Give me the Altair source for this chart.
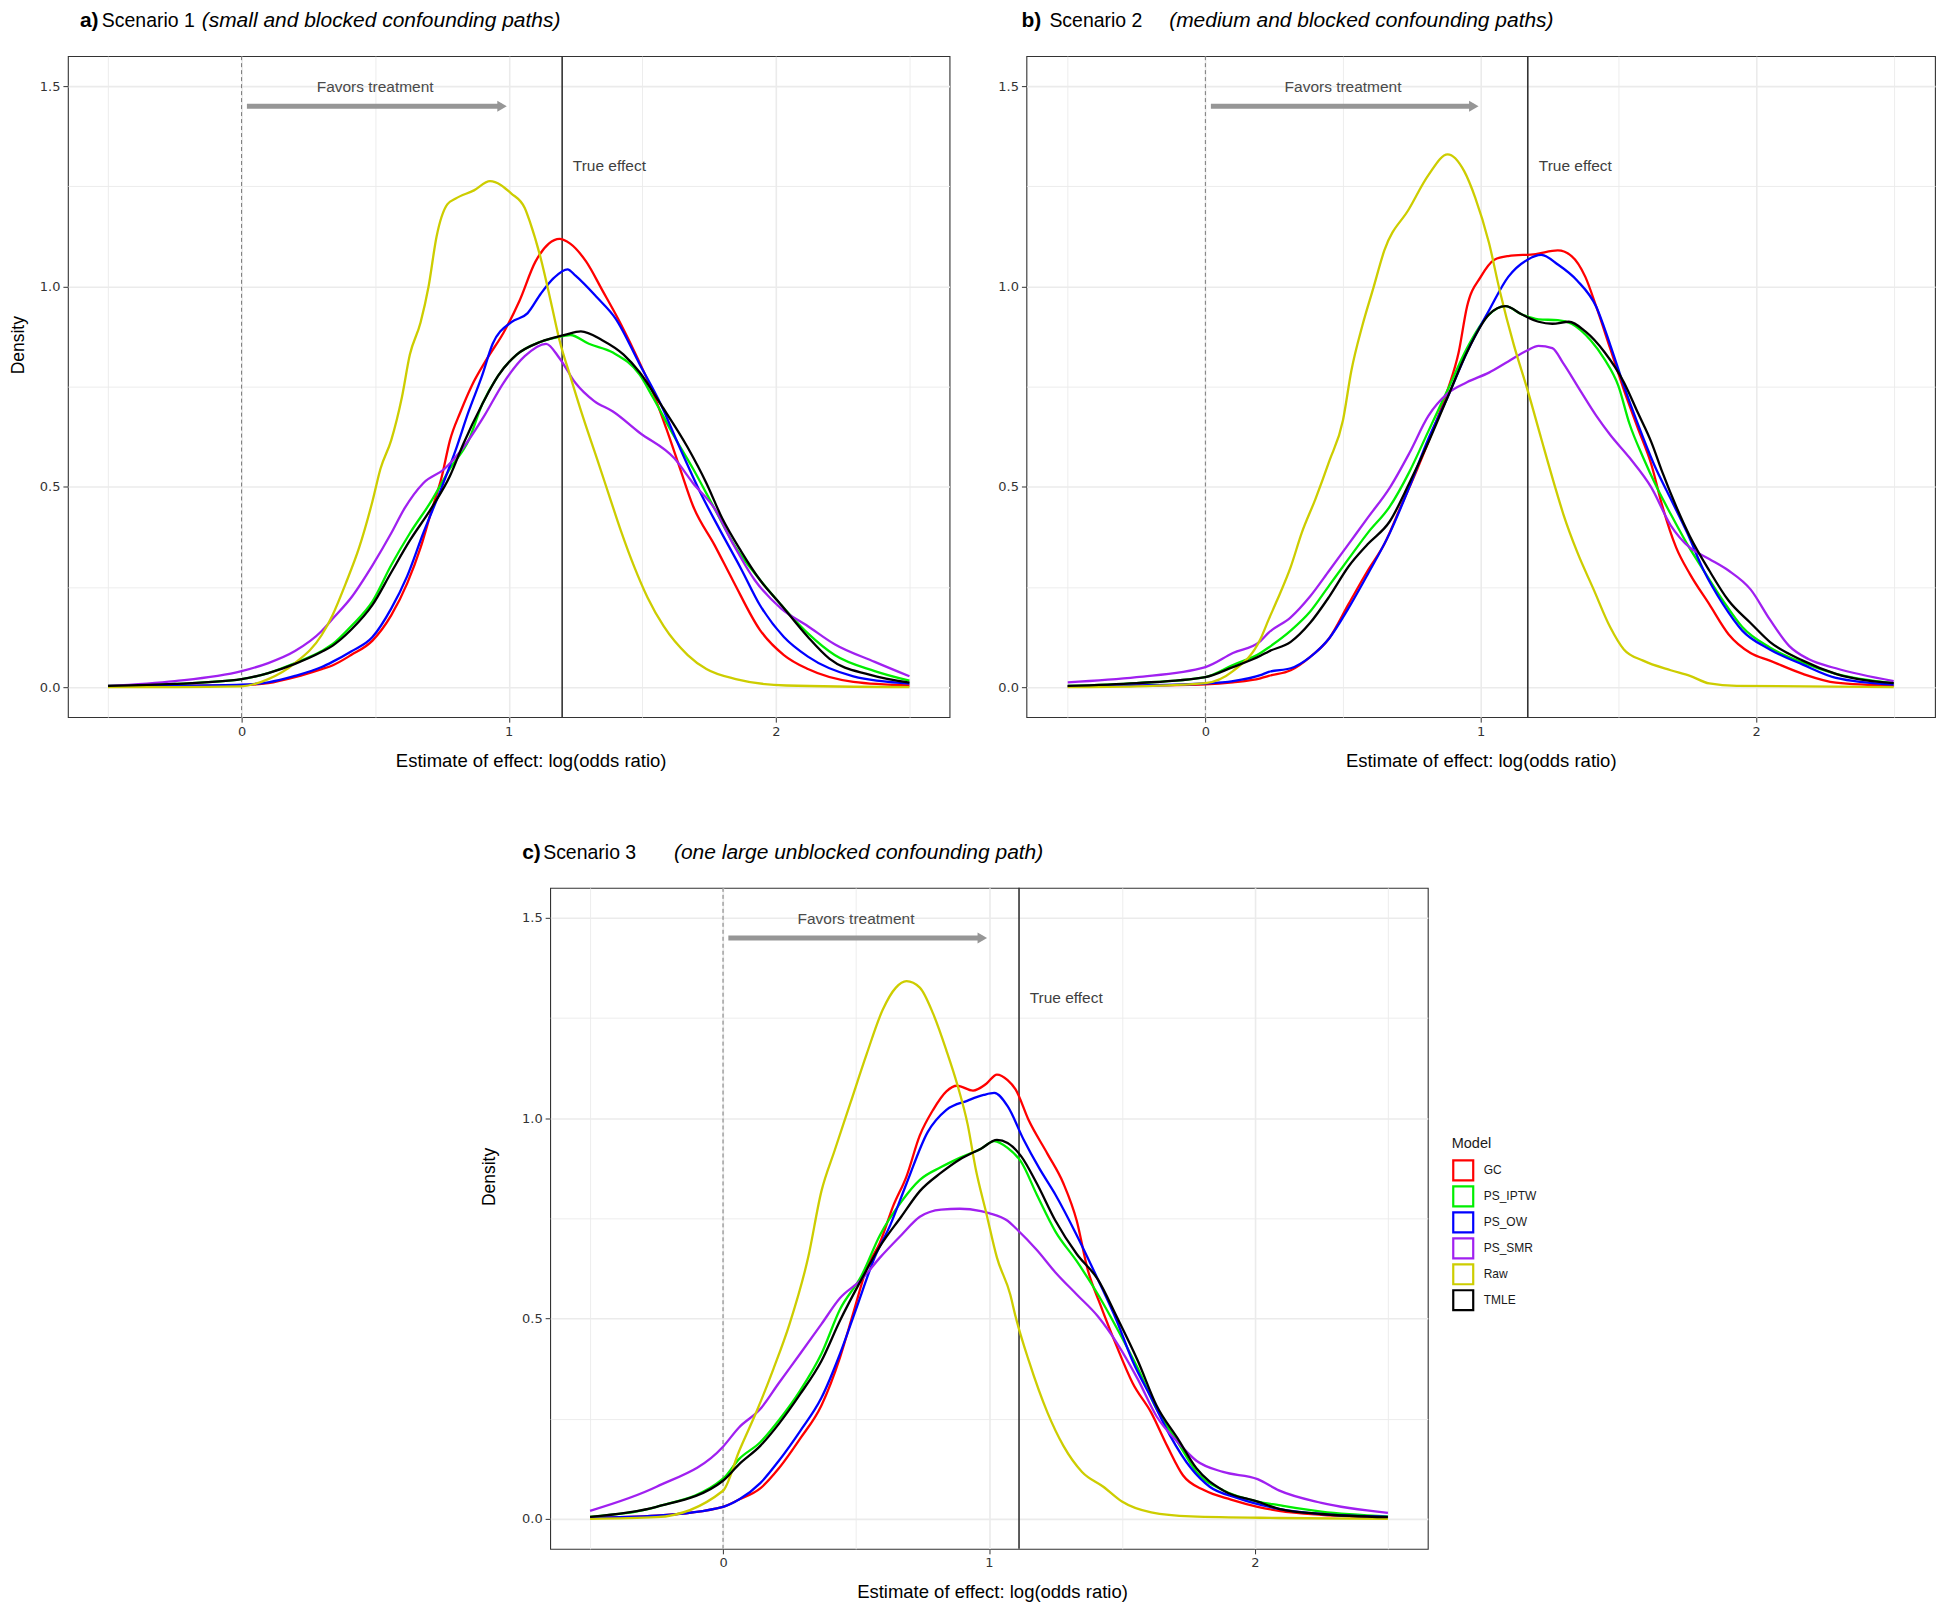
import altair as alt
import pandas as pd

MODELS = ["GC", "PS_IPTW", "PS_OW", "PS_SMR", "Raw", "TMLE"]
COLORS = ["#FF0000", "#00EE00", "#0000FF", "#A020F0", "#CDCD00", "#000000"]

# ---------------- Panel a (Scenario 1) ----------------
A_GC_X = [-0.5, -0.25, 0.0, 0.1, 0.2, 0.3, 0.34, 0.41, 0.49, 0.56, 0.62, 0.67, 0.71, 0.75, 0.78, 0.82, 0.86, 0.92, 0.98, 1.04, 1.1, 1.15, 1.19, 1.23, 1.29, 1.35, 1.42, 1.49, 1.54, 1.59, 1.64, 1.69, 1.77, 1.84, 1.94, 2.03, 2.12, 2.29, 2.5]
A_GC_Y = [0.002, 0.003, 0.005, 0.01, 0.025, 0.045, 0.054, 0.08, 0.116, 0.179, 0.259, 0.348, 0.438, 0.527, 0.616, 0.688, 0.75, 0.821, 0.884, 0.964, 1.062, 1.107, 1.119, 1.107, 1.062, 0.991, 0.906, 0.81, 0.735, 0.645, 0.548, 0.452, 0.355, 0.265, 0.143, 0.08, 0.045, 0.013, 0.004]
A_OW_X = [-0.5, -0.25, 0.0, 0.1, 0.2, 0.3, 0.34, 0.41, 0.49, 0.56, 0.62, 0.68, 0.75, 0.8, 0.85, 0.9, 0.94, 1.01, 1.07, 1.12, 1.17, 1.22, 1.25, 1.33, 1.4, 1.49, 1.57, 1.64, 1.72, 1.79, 1.87, 1.94, 2.03, 2.12, 2.29, 2.5]
A_OW_Y = [0.002, 0.003, 0.006, 0.012, 0.028, 0.05, 0.063, 0.089, 0.125, 0.196, 0.277, 0.384, 0.5, 0.589, 0.688, 0.777, 0.857, 0.911, 0.933, 0.982, 1.022, 1.043, 1.027, 0.973, 0.92, 0.806, 0.705, 0.598, 0.482, 0.393, 0.295, 0.205, 0.125, 0.076, 0.027, 0.009]
A_IPTW_X = [-0.5, -0.25, 0.0, 0.1, 0.2, 0.3, 0.34, 0.41, 0.49, 0.56, 0.63, 0.71, 0.78, 0.85, 0.9, 0.96, 1.03, 1.1, 1.18, 1.23, 1.3, 1.39, 1.49, 1.54, 1.62, 1.69, 1.77, 1.85, 1.94, 2.02, 2.12, 2.22, 2.37, 2.5]
A_IPTW_Y = [0.003, 0.008, 0.02, 0.035, 0.06, 0.09, 0.107, 0.152, 0.214, 0.304, 0.384, 0.464, 0.545, 0.616, 0.705, 0.777, 0.83, 0.857, 0.873, 0.879, 0.857, 0.835, 0.78, 0.723, 0.625, 0.545, 0.446, 0.348, 0.268, 0.205, 0.134, 0.08, 0.04, 0.016]
A_TMLE_X = [-0.5, -0.25, 0.0, 0.1, 0.2, 0.3, 0.34, 0.41, 0.49, 0.56, 0.63, 0.71, 0.78, 0.83, 0.9, 0.96, 1.03, 1.12, 1.21, 1.27, 1.35, 1.43, 1.49, 1.57, 1.67, 1.74, 1.8, 1.87, 1.94, 2.02, 2.12, 2.2, 2.35, 2.5]
A_TMLE_Y = [0.003, 0.008, 0.02, 0.035, 0.058, 0.088, 0.103, 0.143, 0.205, 0.286, 0.366, 0.446, 0.527, 0.607, 0.705, 0.777, 0.83, 0.862, 0.879, 0.888, 0.866, 0.83, 0.786, 0.705, 0.598, 0.509, 0.42, 0.339, 0.268, 0.205, 0.125, 0.071, 0.031, 0.011]
A_SMR_X = [-0.5, -0.25, 0.0, 0.1, 0.2, 0.3, 0.34, 0.41, 0.49, 0.56, 0.61, 0.68, 0.76, 0.83, 0.91, 0.98, 1.06, 1.14, 1.19, 1.25, 1.32, 1.39, 1.49, 1.62, 1.69, 1.77, 1.84, 1.92, 2.02, 2.12, 2.22, 2.37, 2.5]
A_SMR_Y = [0.003, 0.015, 0.04, 0.06, 0.09, 0.14, 0.17, 0.223, 0.304, 0.384, 0.446, 0.509, 0.545, 0.598, 0.679, 0.759, 0.826, 0.857, 0.821, 0.759, 0.714, 0.688, 0.635, 0.571, 0.509, 0.446, 0.357, 0.268, 0.196, 0.152, 0.107, 0.063, 0.027]
A_RAW_X = [-0.5, -0.25, 0.0, 0.1, 0.2, 0.3, 0.34, 0.39, 0.44, 0.49, 0.52, 0.56, 0.6, 0.63, 0.67, 0.7, 0.73, 0.77, 0.8, 0.87, 0.93, 1.01, 1.06, 1.08, 1.12, 1.16, 1.19, 1.23, 1.28, 1.33, 1.38, 1.42, 1.47, 1.52, 1.58, 1.67, 1.74, 1.85, 2.04, 2.5]
A_RAW_Y = [0.0, 0.0, 0.002, 0.02, 0.06, 0.13, 0.179, 0.259, 0.348, 0.464, 0.545, 0.616, 0.723, 0.83, 0.91, 1.0, 1.125, 1.205, 1.219, 1.24, 1.263, 1.232, 1.196, 1.16, 1.07, 0.955, 0.866, 0.777, 0.67, 0.571, 0.47, 0.39, 0.3, 0.223, 0.152, 0.08, 0.045, 0.02, 0.004, 0.0]

# ---------------- Panel b (Scenario 2) ----------------
B_GC_X = [-0.5, -0.25, 0.0, 0.1, 0.2, 0.23, 0.31, 0.38, 0.45, 0.52, 0.59, 0.65, 0.71, 0.77, 0.83, 0.88, 0.92, 0.95, 1.0, 1.05, 1.1, 1.2, 1.28, 1.33, 1.38, 1.42, 1.47, 1.52, 1.57, 1.62, 1.66, 1.71, 1.76, 1.83, 1.9, 1.98, 2.05, 2.17, 2.29, 2.5]
B_GC_Y = [0.002, 0.004, 0.007, 0.012, 0.022, 0.028, 0.042, 0.075, 0.122, 0.207, 0.291, 0.357, 0.451, 0.545, 0.648, 0.742, 0.836, 0.949, 1.024, 1.067, 1.076, 1.081, 1.09, 1.076, 1.024, 0.949, 0.846, 0.742, 0.648, 0.555, 0.451, 0.348, 0.282, 0.207, 0.132, 0.085, 0.066, 0.033, 0.011, 0.003]
B_OW_X = [-0.5, -0.25, 0.0, 0.1, 0.2, 0.23, 0.31, 0.38, 0.45, 0.52, 0.59, 0.67, 0.74, 0.81, 0.88, 0.95, 1.03, 1.1, 1.17, 1.22, 1.28, 1.35, 1.42, 1.47, 1.52, 1.57, 1.63, 1.69, 1.75, 1.81, 1.88, 1.95, 2.05, 2.17, 2.29, 2.5]
B_OW_Y = [0.002, 0.004, 0.009, 0.015, 0.03, 0.038, 0.047, 0.075, 0.122, 0.197, 0.282, 0.385, 0.498, 0.62, 0.724, 0.836, 0.94, 1.024, 1.067, 1.079, 1.055, 1.015, 0.949, 0.855, 0.752, 0.658, 0.555, 0.47, 0.385, 0.291, 0.207, 0.141, 0.094, 0.056, 0.023, 0.006]
B_IPTW_X = [-0.5, -0.25, 0.0, 0.1, 0.2, 0.23, 0.31, 0.38, 0.45, 0.52, 0.59, 0.67, 0.74, 0.81, 0.88, 0.95, 1.03, 1.09, 1.15, 1.21, 1.28, 1.33, 1.4, 1.45, 1.5, 1.54, 1.59, 1.64, 1.69, 1.75, 1.81, 1.88, 1.95, 2.05, 2.17, 2.29, 2.5]
B_IPTW_Y = [0.003, 0.01, 0.025, 0.055, 0.085, 0.099, 0.141, 0.188, 0.254, 0.32, 0.385, 0.451, 0.536, 0.639, 0.742, 0.846, 0.93, 0.951, 0.93, 0.918, 0.916, 0.907, 0.865, 0.818, 0.752, 0.658, 0.573, 0.498, 0.432, 0.357, 0.291, 0.216, 0.15, 0.099, 0.061, 0.033, 0.01]
B_TMLE_X = [-0.5, -0.25, 0.0, 0.1, 0.2, 0.23, 0.31, 0.38, 0.45, 0.52, 0.59, 0.67, 0.74, 0.81, 0.88, 0.95, 1.03, 1.09, 1.15, 1.21, 1.26, 1.32, 1.38, 1.45, 1.52, 1.57, 1.62, 1.66, 1.71, 1.76, 1.83, 1.9, 1.98, 2.05, 2.17, 2.29, 2.5]
B_TMLE_Y = [0.003, 0.01, 0.025, 0.05, 0.078, 0.089, 0.113, 0.16, 0.226, 0.301, 0.357, 0.414, 0.508, 0.611, 0.724, 0.836, 0.93, 0.951, 0.93, 0.912, 0.907, 0.912, 0.888, 0.836, 0.761, 0.686, 0.611, 0.536, 0.451, 0.376, 0.291, 0.216, 0.16, 0.113, 0.066, 0.033, 0.01]
B_SMR_X = [-0.5, -0.25, 0.0, 0.1, 0.2, 0.23, 0.31, 0.38, 0.45, 0.52, 0.59, 0.67, 0.74, 0.81, 0.88, 0.95, 1.03, 1.1, 1.17, 1.21, 1.26, 1.3, 1.36, 1.42, 1.47, 1.54, 1.62, 1.69, 1.76, 1.83, 1.9, 1.98, 2.05, 2.12, 2.19, 2.29, 2.5]
B_SMR_Y = [0.012, 0.025, 0.05, 0.085, 0.115, 0.136, 0.174, 0.226, 0.291, 0.357, 0.423, 0.498, 0.583, 0.677, 0.733, 0.761, 0.785, 0.813, 0.841, 0.852, 0.846, 0.808, 0.742, 0.677, 0.63, 0.573, 0.498, 0.404, 0.348, 0.32, 0.291, 0.244, 0.169, 0.103, 0.07, 0.047, 0.015]
B_RAW_X = [-0.5, -0.25, 0.0, 0.1, 0.2, 0.23, 0.26, 0.31, 0.35, 0.4, 0.45, 0.5, 0.53, 0.57, 0.61, 0.65, 0.74, 0.81, 0.88, 0.94, 0.98, 1.03, 1.07, 1.12, 1.17, 1.22, 1.27, 1.3, 1.35, 1.41, 1.47, 1.52, 1.59, 1.69, 1.76, 1.83, 1.93, 2.5]
B_RAW_Y = [0.0, 0.002, 0.01, 0.04, 0.12, 0.169, 0.216, 0.3, 0.385, 0.47, 0.564, 0.667, 0.789, 0.902, 0.996, 1.09, 1.194, 1.278, 1.33, 1.288, 1.222, 1.109, 0.987, 0.855, 0.742, 0.62, 0.5, 0.432, 0.338, 0.244, 0.15, 0.094, 0.066, 0.042, 0.028, 0.009, 0.003, 0.0]

# ---------------- Panel c (Scenario 3) ----------------
C_GC_X = [-0.5, -0.25, 0.0, 0.06, 0.14, 0.21, 0.29, 0.37, 0.44, 0.49, 0.54, 0.59, 0.64, 0.69, 0.74, 0.79, 0.84, 0.88, 0.94, 0.99, 1.03, 1.07, 1.1, 1.15, 1.22, 1.28, 1.33, 1.37, 1.42, 1.48, 1.54, 1.61, 1.67, 1.73, 1.81, 1.91, 2.01, 2.09, 2.25, 2.5]
C_GC_Y = [0.003, 0.008, 0.03, 0.048, 0.076, 0.126, 0.2, 0.283, 0.403, 0.514, 0.625, 0.689, 0.781, 0.855, 0.957, 1.021, 1.067, 1.081, 1.069, 1.086, 1.109, 1.095, 1.072, 0.994, 0.911, 0.837, 0.744, 0.625, 0.532, 0.431, 0.339, 0.265, 0.182, 0.108, 0.071, 0.048, 0.03, 0.02, 0.01, 0.004]
C_OW_X = [-0.5, -0.25, 0.0, 0.06, 0.14, 0.21, 0.29, 0.37, 0.44, 0.5, 0.57, 0.63, 0.69, 0.77, 0.84, 0.92, 0.98, 1.02, 1.07, 1.13, 1.19, 1.25, 1.33, 1.41, 1.48, 1.54, 1.61, 1.68, 1.76, 1.83, 1.93, 2.09, 2.25, 2.5]
C_OW_Y = [0.003, 0.008, 0.03, 0.048, 0.089, 0.145, 0.219, 0.302, 0.412, 0.523, 0.652, 0.735, 0.837, 0.966, 1.021, 1.044, 1.058, 1.063, 1.03, 0.947, 0.874, 0.809, 0.708, 0.597, 0.495, 0.394, 0.302, 0.209, 0.126, 0.08, 0.053, 0.025, 0.012, 0.005]
C_IPTW_X = [-0.5, -0.25, 0.0, 0.06, 0.14, 0.21, 0.29, 0.37, 0.44, 0.52, 0.59, 0.67, 0.74, 0.82, 0.89, 0.97, 1.02, 1.07, 1.12, 1.18, 1.25, 1.33, 1.41, 1.48, 1.56, 1.63, 1.71, 1.78, 1.88, 2.01, 2.09, 2.25, 2.5]
C_IPTW_Y = [0.005, 0.03, 0.1, 0.149, 0.191, 0.246, 0.32, 0.412, 0.523, 0.606, 0.708, 0.791, 0.846, 0.878, 0.901, 0.924, 0.943, 0.926, 0.892, 0.809, 0.717, 0.643, 0.56, 0.477, 0.375, 0.274, 0.191, 0.117, 0.071, 0.043, 0.034, 0.018, 0.006]
C_TMLE_X = [-0.5, -0.25, 0.0, 0.06, 0.14, 0.21, 0.29, 0.37, 0.44, 0.52, 0.59, 0.67, 0.74, 0.82, 0.89, 0.97, 1.03, 1.07, 1.12, 1.18, 1.25, 1.33, 1.41, 1.48, 1.56, 1.63, 1.71, 1.78, 1.88, 2.01, 2.09, 2.25, 2.5]
C_TMLE_Y = [0.005, 0.03, 0.095, 0.136, 0.182, 0.237, 0.311, 0.394, 0.495, 0.597, 0.68, 0.754, 0.818, 0.864, 0.897, 0.924, 0.946, 0.938, 0.906, 0.837, 0.744, 0.661, 0.597, 0.505, 0.394, 0.283, 0.2, 0.126, 0.071, 0.043, 0.025, 0.012, 0.004]
C_SMR_X = [-0.5, -0.25, 0.0, 0.06, 0.14, 0.21, 0.29, 0.37, 0.44, 0.52, 0.59, 0.67, 0.74, 0.82, 0.89, 0.97, 1.0, 1.07, 1.1, 1.18, 1.25, 1.33, 1.41, 1.48, 1.56, 1.63, 1.71, 1.78, 1.88, 2.01, 2.09, 2.25, 2.5]
C_SMR_Y = [0.02, 0.08, 0.18, 0.228, 0.274, 0.339, 0.412, 0.486, 0.551, 0.597, 0.652, 0.708, 0.754, 0.772, 0.774, 0.768, 0.763, 0.744, 0.726, 0.671, 0.615, 0.56, 0.505, 0.44, 0.348, 0.256, 0.191, 0.145, 0.117, 0.099, 0.071, 0.04, 0.015]
C_RAW_X = [-0.5, -0.25, 0.0, 0.06, 0.13, 0.19, 0.25, 0.32, 0.37, 0.42, 0.48, 0.54, 0.6, 0.65, 0.69, 0.74, 0.79, 0.84, 0.88, 0.92, 0.95, 0.99, 1.03, 1.08, 1.1, 1.15, 1.22, 1.28, 1.35, 1.43, 1.5, 1.61, 1.76, 2.09, 2.5]
C_RAW_Y = [0.0, 0.004, 0.07, 0.168, 0.274, 0.375, 0.486, 0.652, 0.818, 0.92, 1.04, 1.16, 1.27, 1.326, 1.342, 1.326, 1.261, 1.169, 1.086, 0.984, 0.874, 0.763, 0.652, 0.56, 0.505, 0.394, 0.265, 0.182, 0.117, 0.08, 0.043, 0.016, 0.006, 0.002, 0.0]

# annotation values (data units)
TRUE_EFFECT = [1.2, 1.171, 1.113]
TRUE_LABEL_DX = 0.04
TRUE_LABEL_Y = 1.3
FAVORS_X = 0.5
FAVORS_Y = 1.5
ARROW_X0 = 0.02
ARROW_X1 = 0.975
ARROW_Y = 1.45

X_TICKS = [-0.5, 0, 0.5, 1, 1.5, 2, 2.5]
Y_TICKS = [0, 0.25, 0.5, 0.75, 1.0, 1.25, 1.5]
X_DOMAIN = [-0.65, 2.65]
Y_DOMAIN = [-0.075, 1.575]

TITLES = [
    ("a)", "Scenario 1", "(small and blocked confounding paths)"),
    ("b)", "Scenario 2", "(medium and blocked confounding paths)"),
    ("c)", "Scenario 3", "(one large unblocked confounding path)"),
]

SERIES = {
    "a": [(A_GC_X, A_GC_Y), (A_IPTW_X, A_IPTW_Y), (A_OW_X, A_OW_Y), (A_SMR_X, A_SMR_Y), (A_RAW_X, A_RAW_Y), (A_TMLE_X, A_TMLE_Y)],
    "b": [(B_GC_X, B_GC_Y), (B_IPTW_X, B_IPTW_Y), (B_OW_X, B_OW_Y), (B_SMR_X, B_SMR_Y), (B_RAW_X, B_RAW_Y), (B_TMLE_X, B_TMLE_Y)],
    "c": [(C_GC_X, C_GC_Y), (C_IPTW_X, C_IPTW_Y), (C_OW_X, C_OW_Y), (C_SMR_X, C_SMR_Y), (C_RAW_X, C_RAW_Y), (C_TMLE_X, C_TMLE_Y)],
}

SANS = "Liberation Sans, Arial, sans-serif"
TICKFONT = "DejaVu Sans, Verdana, sans-serif"


def curves_df(series):
    rows = []
    for k, (m, (xs, ys)) in enumerate(zip(MODELS, series)):
        assert len(xs) == len(ys), (m, len(xs), len(ys))
        for x, y in zip(xs, ys):
            rows.append({"model": m, "x": x, "y": y, "k": k})
    return pd.DataFrame(rows)


def panel(key, idx, width, height, show_ytitle, legend, title_offsets, xtitle_dx, ytitle_pad):
    xs = alt.Scale(domain=X_DOMAIN, nice=False, zero=False)
    ys = alt.Scale(domain=Y_DOMAIN, nice=False, zero=False)
    xaxis = alt.Axis(
        values=X_TICKS,
        labelExpr="datum.value % 1 == 0 ? format(datum.value, 'd') : ''",
        labelOverlap=False,
        tickOpacity={"condition": {"test": "datum.value % 1 == 0", "value": 1}, "value": 0},
        gridWidth={"condition": {"test": "datum.value % 1 == 0", "value": 1.6}, "value": 0.9},
        gridColor="#EBEBEB",
        domain=False,
        tickColor="#333333",
        tickSize=5,
        labelFont=TICKFONT,
        labelFontSize=13,
        labelColor="#333333",
        labelPadding=3,
        title="Estimate of effect: log(odds ratio)",
        titleFont=SANS,
        titleFontSize=18.5,
        titleFontWeight="normal",
        titleColor="#000000",
        titlePadding=13,
        titleX=width / 2 + xtitle_dx,
    )
    ykw = dict(
        values=Y_TICKS,
        labelExpr="datum.value % 0.5 == 0 ? format(datum.value, '.1f') : ''",
        labelOverlap=False,
        tickOpacity={"condition": {"test": "datum.value % 0.5 == 0", "value": 1}, "value": 0},
        gridWidth={"condition": {"test": "datum.value % 0.5 == 0", "value": 1.6}, "value": 0.9},
        gridColor="#EBEBEB",
        domain=False,
        tickColor="#333333",
        tickSize=5,
        labelFont=TICKFONT,
        labelFontSize=13,
        labelColor="#333333",
        labelPadding=3,
        titleFont=SANS,
        titleFontSize=17.5,
        titleFontWeight="normal",
        titleColor="#000000",
        titlePadding=ytitle_pad,
    )
    if show_ytitle:
        ykw["title"] = "Density"
        ykw["titleY"] = height / 2 - 42
    else:
        ykw["title"] = None
    yaxis = alt.Axis(**ykw)

    def X(f):
        return alt.X(f, type="quantitative", scale=xs, axis=xaxis)

    def Y(f):
        return alt.Y(f, type="quantitative", scale=ys, axis=yaxis)

    df = curves_df(SERIES[key])
    te = TRUE_EFFECT[idx]

    color = alt.Color(
        "model:N",
        scale=alt.Scale(domain=MODELS, range=COLORS),
        legend=legend,
    )
    lines = alt.Chart(df).mark_line(strokeWidth=2.3, interpolate="monotone", strokeJoin="round").encode(
        x=X("x"), y=Y("y"), color=color, detail="k:O"
    )

    zero_rule = alt.Chart(pd.DataFrame({"x": [0.0]})).mark_rule(
        color="#7A7A7A", strokeWidth=1, strokeDash=[4, 3]
    ).encode(x=X("x"))
    true_rule = alt.Chart(pd.DataFrame({"x": [te]})).mark_rule(
        color="#333333", strokeWidth=1.6
    ).encode(x=X("x"))
    arrow_df = pd.DataFrame({"x": [ARROW_X0], "x2": [ARROW_X1], "y": [ARROW_Y]})
    shaft = alt.Chart(arrow_df).mark_rule(color="#969696", strokeWidth=5).encode(
        x=X("x"), x2="x2", y=Y("y")
    )
    head = alt.Chart(arrow_df).mark_point(
        shape="triangle-right", filled=True, size=120, color="#969696", opacity=1
    ).encode(x=X("x2"), y=Y("y"))
    favors = alt.Chart(pd.DataFrame({"x": [FAVORS_X], "y": [FAVORS_Y], "t": ["Favors treatment"]})).mark_text(
        font=SANS, fontSize=15.5, color="#4A4A4A", align="center", baseline="middle", dy=1
    ).encode(x=X("x"), y=Y("y"), text="t:N")
    true_lbl = alt.Chart(pd.DataFrame({"x": [te + TRUE_LABEL_DX], "y": [TRUE_LABEL_Y], "t": ["True effect"]})).mark_text(
        font=SANS, fontSize=15.5, color="#3F3F3F", align="left", baseline="middle"
    ).encode(x=X("x"), y=Y("y"), text="t:N")

    p1, p2, p3 = TITLES[idx]
    o1, o2, o3, oy = title_offsets
    t1 = alt.Chart(pd.DataFrame({"t": [p1]})).mark_text(
        font=SANS, fontSize=21, fontWeight="bold", align="left", baseline="middle", x=o1, y=oy, color="#000000"
    ).encode(text="t:N")
    t2 = alt.Chart(pd.DataFrame({"t": [p2]})).mark_text(
        font=SANS, fontSize=19.5, align="left", baseline="middle", x=o2, y=oy, color="#000000"
    ).encode(text="t:N")
    t3 = alt.Chart(pd.DataFrame({"t": [p3]})).mark_text(
        font=SANS, fontSize=21, fontStyle="italic", align="left", baseline="middle", x=o3, y=oy, color="#000000"
    ).encode(text="t:N")

    return alt.layer(
        zero_rule, true_rule, shaft, head, favors, true_lbl, lines, t1, t2, t3
    ).properties(width=width, height=height)


H = 662
legend_c = alt.Legend(
    title="Model",
    orient="none",
    legendX=903,
    legendY=250,
    symbolType="square",
    symbolSize=400,
    symbolStrokeWidth=2.2,
    symbolFillColor="white",
    labelFont=SANS,
    labelFontSize=12,
    labelColor="#1A1A1A",
    titleFont=SANS,
    titleFontSize=14.5,
    titleFontWeight="normal",
    titleColor="#1A1A1A",
    titlePadding=7,
    rowPadding=-6,
    labelOffset=9,
    padding=0,
)

pa = panel("a", 0, 883, H, True, None, (12, 34, 134, -35), 22, 12)
pb = panel("b", 1, 910, H, False, None, (-5, 23, 143, -35), 0, 12)
pc = panel("c", 2, 879, H, True, legend_c, (-28, -7, 124, -35), 3, 23)

spacer = alt.Chart(pd.DataFrame({"v": [0]})).mark_point(opacity=0).encode(
    x=alt.X("v:Q", axis=None), y=alt.Y("v:Q", axis=None)
).properties(width=411, height=1, view=alt.ViewBackground(stroke="transparent"))

top = alt.hconcat(pa, pb, spacing=46).resolve_scale(color="independent").resolve_legend(color="independent")
bottom = alt.hconcat(spacer, pc, spacing=0).resolve_scale(color="independent").resolve_legend(color="independent")

chart = (
    alt.vconcat(top, bottom, spacing=70)
    .resolve_scale(color="independent")
    .resolve_legend(color="independent")
    .properties(padding=0, background="white")
    .configure_view(stroke="#333333", strokeWidth=1.1)
)

chart.save("out.html", embed_options={"renderer": "svg", "actions": False})
